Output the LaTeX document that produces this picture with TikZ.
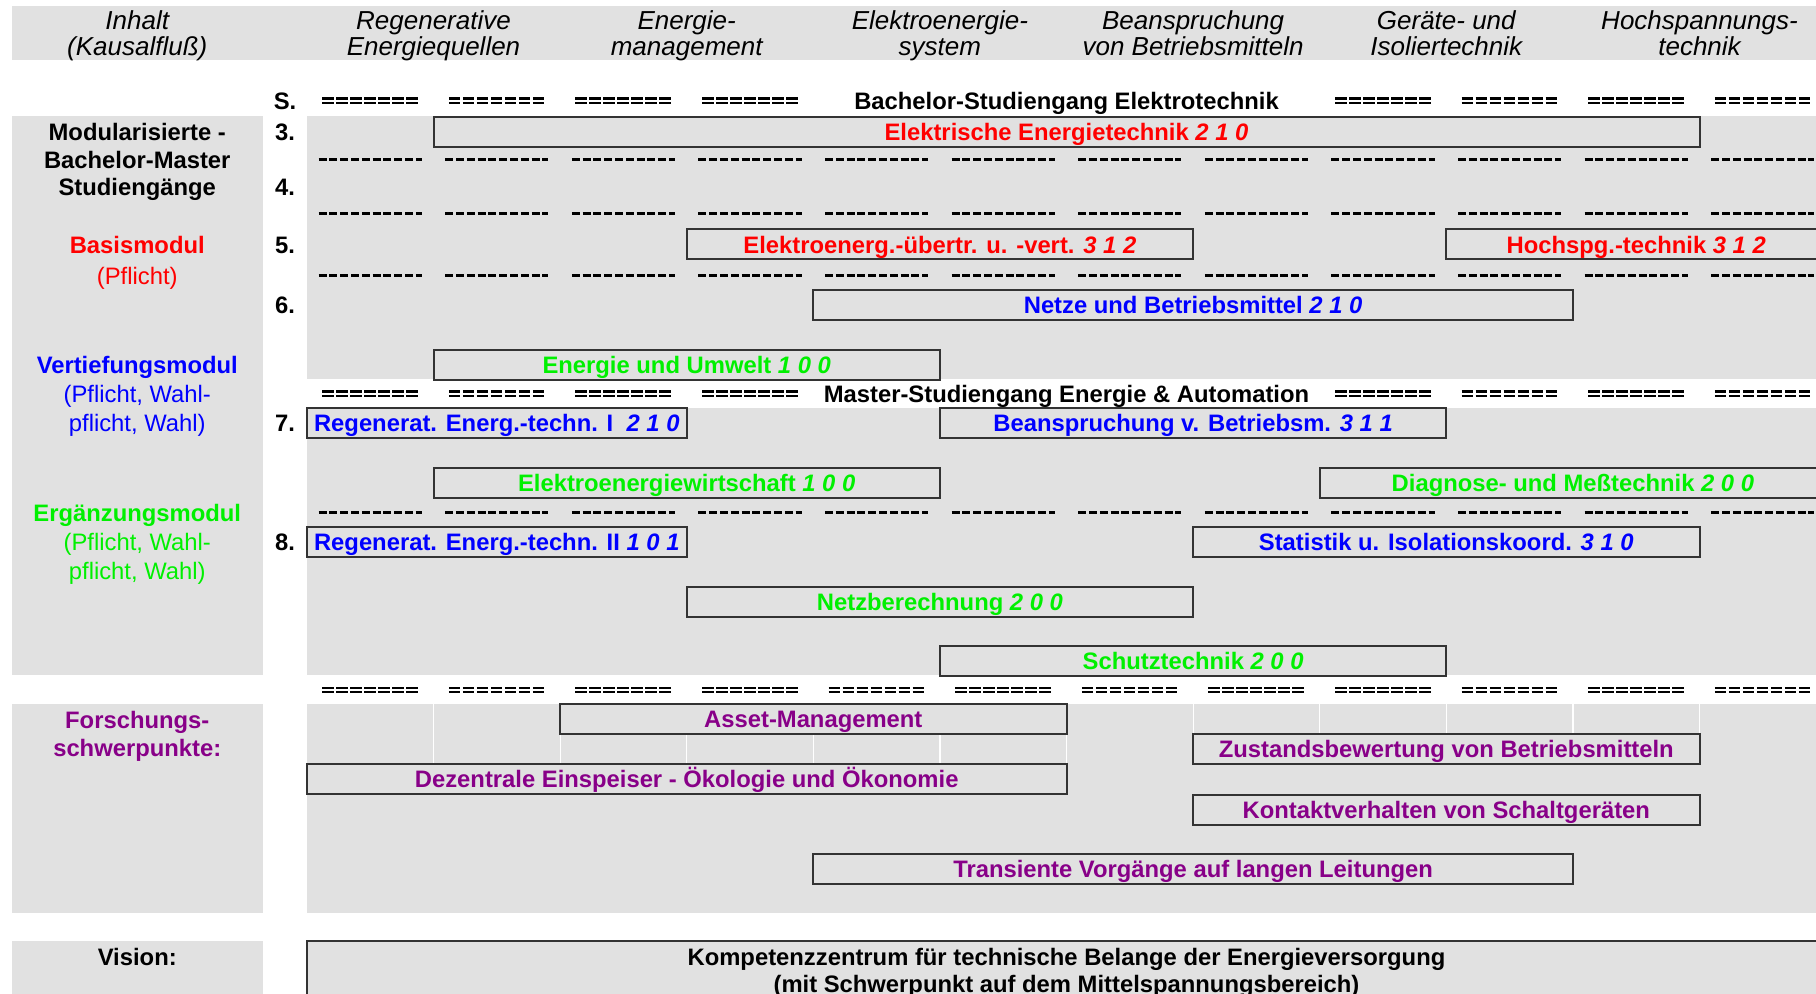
\documentclass[tikz,border=0pt]{standalone}
\usepackage{fontspec}
\setmainfont{Liberation Sans}
\definecolor{bggray}{HTML}{E1E1E1}
\definecolor{boxline}{HTML}{333333}
\definecolor{modred}{HTML}{FF0000}
\definecolor{modblue}{HTML}{0000FF}
\definecolor{modgreen}{HTML}{00F000}
\definecolor{modpurple}{HTML}{880088}
\tikzset{
  modbox/.style={draw=boxline, fill=bggray, line width=1pt, minimum height=15pt, inner sep=0pt,
    text height=8.7pt, text depth=0pt, font=\bfseries\fontsize{11.9}{14}\selectfont},
  cols/.style={minimum width=#1*63.3pt},
  hdtext/.style={font=\itshape\fontsize{13}{13.3}\selectfont, align=center, inner sep=0pt,
    execute at begin node=\strut, execute at end node=\strut},
  lbl/.style={text height=8.7pt, text depth=0pt, font=\bfseries\fontsize{11.9}{14}\selectfont},
  sidelbl/.style={font=\fontsize{11.9}{#1}\selectfont, align=center},
  sidebold/.style={font=\bfseries\fontsize{11.9}{#1}\selectfont, align=center},
  eqline/.style={line width=1.15pt, dash pattern=on 5.8pt off 1.2pt},
  dashline/.style={line width=1.5pt, dash pattern=on 4pt off 1.4pt},
}
\begin{document}
\begin{tikzpicture}[x=63.3pt, y=-0.5pt]
\useasboundingbox (-2.4242,0) rectangle (11.9203,994);
\clip (-2.4242,0) rectangle (11.9203,994);
\fill[bggray] (-2.3325,6) rectangle (12,60);
\node[hdtext] (hInhalt) at (-1.34,37) {Inhalt\\(Kausalfluß)};
\node[hdtext] (hRegen) at (1,37) {Regenerative\\Energiequellen};
\node[hdtext] (hEmgmt) at (3,37) {Energie-\\management};
\node[hdtext] (hEsys) at (5,37) {Elektroenergie-\\system};
\node[hdtext] (hBean) at (7,37) {Beanspruchung\\von Betriebsmitteln};
\node[hdtext] (hGeraete) at (9,37) {Geräte- und\\Isoliertechnik};
\node[hdtext] (hHsp) at (11,37) {Hochspannungs-\\technik};
\fill[bggray] (-2.3325,116) rectangle (-0.3468,675);
\fill[bggray] (0,116) rectangle (12,378.7);
\fill[bggray] (0,407.7) rectangle (12,675);
\fill[bggray] (-2.3325,704) rectangle (-0.3468,913);
\fill[bggray] (0,704) rectangle (12,913);
\fill[bggray] (-2.3325,940.5) rectangle (-0.3468,1000);
\foreach \c in {1,...,11}
  \draw[white, line width=0.6pt] (\c,704) -- (\c,764);
\foreach \y in {100.8,393.8}
  \foreach \c in {0,1,2,3,8,9,10,11} {
    \draw[eqline] (\c+0.121,\y-2.3) -- ++(0.758,0);
    \draw[eqline] (\c+0.121,\y+2.3) -- ++(0.758,0);
  }
\foreach \c in {0,...,11} {
  \draw[eqline] (\c+0.121,687.7) -- ++(0.758,0);
  \draw[eqline] (\c+0.121,692.3) -- ++(0.758,0);
}
\foreach \y in {160,214,275.6,513}
  \foreach \c in {0,...,11}
    \draw[dashline] (\c+0.093,\y) -- ++(0.814,0);
\node[lbl] (bachelor) at (6,100.8) {Bachelor-Studiengang Elektrotechnik};
\node[lbl] (master) at (6,393.8) {Master-Studiengang Energie \& Automation};
\node[lbl] (semS) at (-0.173,100.8) {S.};
\node[lbl] (sem3) at (-0.173,132) {3.};
\node[lbl] (sem4) at (-0.173,186.5) {4.};
\node[lbl] (sem5) at (-0.173,244.5) {5.};
\node[lbl] (sem6) at (-0.173,304.6) {6.};
\node[lbl] (sem7) at (-0.173,422.7) {7.};
\node[lbl] (sem8) at (-0.173,542) {8.};
\node[sidebold=13.65pt] (modul) at (-1.34,162) {Modularisierte -\\Bachelor-Master\\Studiengänge};
\node[sidelbl=15.5pt, text=modred] (basis) at (-1.34,262.5) {\textbf{Basismodul}\\(Pflicht)};
\node[sidelbl=14.5pt, text=modblue] (vertief) at (-1.34,396.3) {\textbf{Vertiefungsmodul}\\(Pflicht, Wahl-\\pflicht, Wahl)};
\node[sidelbl=14.5pt, text=modgreen] (ergaenz) at (-1.34,544.5) {\textbf{Ergänzungsmodul}\\(Pflicht, Wahl-\\pflicht, Wahl)};
\node[sidebold=14pt, text=modpurple] (forsch) at (-1.34,736) {Forschungs-\\schwerpunkte:};
\node[lbl] (vision) at (-1.34,956.6) {Vision:};
\node[modbox, cols=10, text=modred] (eet) at (6,132) {Elektrische Energietechnik \textit{2 1 0}};
\node[modbox, cols=4, text=modred] (euev) at (5,244.5) {Elektroenerg.-übertr. u. -vert. \textit{3 1 2}};
\node[modbox, cols=3, text=modred] (hsp) at (10.5,244.5) {Hochspg.-technik \textit{3 1 2}};
\node[modbox, cols=6, text=modblue] (nbm) at (7,304.6) {Netze und Betriebsmittel \textit{2 1 0}};
\node[modbox, cols=4, text=modgreen] (euu) at (3,364.8) {Energie und Umwelt \textit{1 0 0}};
\node[modbox, cols=3, text=modblue] (reg1) at (1.5,422.7) {Regenerat. Energ.-techn. I\ \ \textit{2 1 0}};
\node[modbox, cols=4, text=modblue] (bean) at (7,422.7) {Beanspruchung v. Betriebsm. \textit{3 1 1}};
\node[modbox, cols=4, text=modgreen] (eew) at (3,483) {Elektroenergiewirtschaft \textit{1 0 0}};
\node[modbox, cols=4, text=modgreen] (diag) at (10,483) {Diagnose- und Meßtechnik \textit{2 0 0}};
\node[modbox, cols=3, text=modblue] (reg2) at (1.5,542) {Regenerat. Energ.-techn. II \textit{1 0 1}};
\node[modbox, cols=4, text=modblue] (stat) at (9,542) {Statistik u. Isolationskoord. \textit{3 1 0}};
\node[modbox, cols=4, text=modgreen] (netzb) at (5,602) {Netzberechnung \textit{2 0 0}};
\node[modbox, cols=4, text=modgreen] (schutz) at (7,661) {Schutztechnik \textit{2 0 0}};
\node[modbox, cols=4, text=modpurple] (asset) at (4,719) {Asset-Management};
\node[modbox, cols=4, text=modpurple] (zustand) at (9,749) {Zustandsbewertung von Betriebsmitteln};
\node[modbox, cols=6, text=modpurple] (dezentr) at (3,779) {Dezentrale Einspeiser - Ökologie und Ökonomie};
\node[modbox, cols=4, text=modpurple] (kontakt) at (9,809.6) {Kontaktverhalten von Schaltgeräten};
\node[modbox, cols=6, text=modpurple] (transient) at (7,868.6) {Transiente Vorgänge auf langen Leitungen};
\node[modbox, cols=12, minimum height=32.5pt, text height=, text depth=, align=center,
  font=\bfseries\fontsize{11.9}{13.35}\selectfont] (kompetenz) at (6,973)
  {Kompetenzzentrum für technische Belange der Energieversorgung\\(mit Schwerpunkt auf dem Mittelspannungsbereich)};
\end{tikzpicture}
\end{document}
